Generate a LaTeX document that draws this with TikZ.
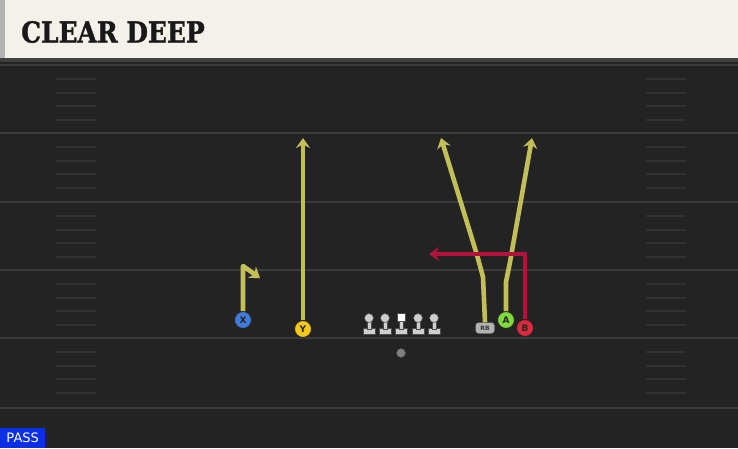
\documentclass[tikz,border=0pt]{standalone}
\usepackage{fontspec}
\usepackage{xcolor}
\usepackage{tikz}
\usetikzlibrary{arrows.meta,positioning}
\setsansfont{DejaVu Sans}
\newfontfamily\titlefont[FakeStretch=0.86, FakeBold=1.2]{DejaVu Serif}

\definecolor{fieldbg}{HTML}{232323}
\definecolor{fieldline}{HTML}{3C3C3C}
\definecolor{hashline}{HTML}{313131}
\definecolor{headbg}{HTML}{F4F1EA}
\definecolor{routeyellow}{HTML}{C2BF58}
\definecolor{routered}{HTML}{B3123C}
\definecolor{xblue}{HTML}{3E7BDB}
\definecolor{yyellow}{HTML}{F3C81F}
\definecolor{agreen}{HTML}{80D93C}
\definecolor{bred}{HTML}{E2283E}
\definecolor{linegray}{HTML}{CFCFCF}
\definecolor{passblue}{HTML}{0A2FE6}

\begin{document}
\begin{tikzpicture}[x=1pt, y=-1pt,
  player/.style={circle, draw=black!85, line width=0.9pt, minimum size=17pt, inner sep=0pt, font=\sffamily\bfseries\small, text=black!85},
  route/.style={draw=routeyellow, line width=4.6pt, line join=round, -{Stealth[length=10pt, width=14pt, inset=3.5pt]}},
  redroute/.style={route, draw=routered},
  lineman/.style={fill=linegray, draw=black!70, line width=0.5pt}]
  \useasboundingbox (0,0) rectangle (738,448);

  % Field
  \fill[fieldbg] (0,0) rectangle (738,448);
  \foreach \y in {65,133,202,270,338,408}
    \draw[fieldline, line width=1.8pt] (0,\y) -- (738,\y);
  \foreach \y in {65,133,202,270,338}
    \foreach \d in {14,28,41,55} {
      \draw[hashline, line width=1.8pt] (56,\y+\d) -- (96,\y+\d);
      \draw[hashline, line width=1.8pt] (646,\y+\d) -- (686,\y+\d);
    }

  % Header
  \fill[black!75] (0,58) rectangle (738,62);
  \fill[headbg] (0,0) rectangle (738,58);
  \fill[black!30] (0,0) rectangle (5,58);
  \node[anchor=west, inner sep=0pt, font=\titlefont\bfseries\fontsize{29}{29}\selectfont, text=black!90] (title) at (21,32) {CLEAR DEEP};

  % Line
  \foreach \x in {369,385,418,434} {
    \filldraw[lineman] (\x-6,328) rectangle (\x+6,334);
    \fill[lineman] (\x-2.2,318) rectangle (\x+2.2,329);
    \fill[lineman] (\x,318) circle (4.5);
  }
  \filldraw[lineman] (395,328) rectangle (407,334);
  \fill[lineman] (398.8,318) rectangle (403.2,329);
  \filldraw[fill=white, draw=black!70] (397,313) rectangle (405,321);
  \node[circle, fill=black!50, draw=black!70, minimum size=9pt, inner sep=0pt] (ball) at (401,353) {};

  % Players
  \node[player, fill=xblue] (x) at (243,320) {X};
  \node[player, fill=yyellow] (y) at (303,329) {Y};
  \node[rectangle, rounded corners=3pt, fill=black!30, draw=black!70, minimum width=19pt, minimum height=11pt, inner sep=0pt, font=\sffamily\bfseries\fontsize{6}{6}\selectfont, text=black!80] (rb) at (485,328) {RB};
  \node[player, fill=agreen] (a) at (506,320) {A};
  \node[player, fill=bred] (b) at (525,328) {B};

  % Route points
  \coordinate (xbreak) at (243,266);
  \coordinate (xend) at (260,278);
  \coordinate (yend) at (303,138);
  \coordinate (rbbend) at (483,277);
  \coordinate (rbturn) at (477,255);
  \coordinate (rbend) at (441,138);
  \coordinate (abend) at (506,282);
  \coordinate (aturn) at (510,262);
  \coordinate (aend) at (532,138);
  \coordinate (bbreak) at (525,254);
  \coordinate (bend) at (429,254);

  % Routes
  \draw[route] (x.north) -- (xbreak) -- (xend);
  \draw[route] (y.north) -- (yend);
  \draw[route] (rb.north) -- (rbbend) -- (rbturn) -- (rbend);
  \draw[route] (a.north) -- (abend) -- (aturn) -- (aend);
  \draw[redroute] (b.north) -- (bbreak) -- (bend);

  % Play type
  \node[anchor=south west, fill=passblue, text=white, inner sep=2pt, minimum width=45pt, minimum height=20pt, font=\sffamily\fontsize{13}{13}\selectfont] (pass) at (0,448) {PASS};
\end{tikzpicture}
\end{document}
